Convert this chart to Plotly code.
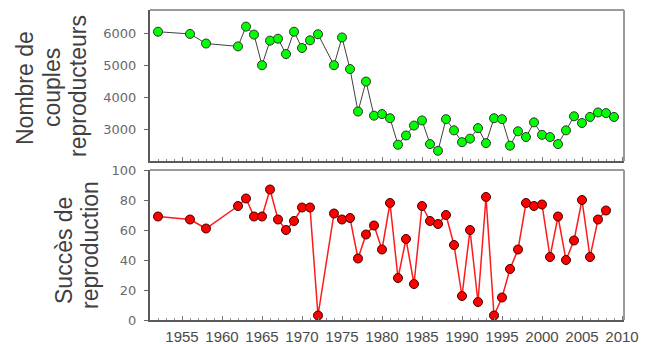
import plotly.graph_objects as go

years_top = [1952, 1956, 1958, 1962, 1963, 1964, 1965, 1966, 1967, 1968, 1969, 1970, 1971, 1972,
             1974, 1975, 1976, 1977, 1978, 1979, 1980, 1981, 1982, 1983, 1984, 1985, 1986, 1987,
             1988, 1989, 1990, 1991, 1992, 1993, 1994, 1995, 1996, 1997, 1998, 1999, 2000, 2001,
             2002, 2003, 2004, 2005, 2006, 2007, 2008, 2009]
couples = [6050, 5980, 5680, 5590, 6210, 5960, 5000, 5770, 5830, 5350, 6050, 5540, 5780, 5970,
           5000, 5870, 4880, 3550, 4490, 3420, 3470, 3340, 2510, 2800, 3110, 3270, 2530, 2320,
           3310, 2960, 2590, 2700, 3030, 2560, 3340, 3310, 2480, 2930, 2750, 3210, 2820, 2750,
           2530, 2960, 3400, 3190, 3380, 3520, 3500, 3380]

years_bot = [1952, 1956, 1958, 1962, 1963, 1964, 1965, 1966, 1967, 1968, 1969, 1970, 1971, 1972,
             1974, 1975, 1976, 1977, 1978, 1979, 1980, 1981, 1982, 1983, 1984, 1985, 1986, 1987,
             1988, 1989, 1990, 1991, 1992, 1993, 1994, 1995, 1996, 1997, 1998, 1999, 2000, 2001,
             2002, 2003, 2004, 2005, 2006, 2007, 2008]
succes = [69, 67, 61, 76, 81, 69, 69, 87, 67, 60, 66, 75, 75, 3,
          71, 67, 68, 41, 57, 63, 47, 78, 28, 54, 24, 76, 66, 64,
          70, 50, 16, 60, 12, 82, 3, 15, 34, 47, 78, 76, 77, 42,
          69, 40, 53, 80, 42, 67, 73]

x_ticks = [1955, 1960, 1965, 1970, 1975, 1980, 1985, 1990, 1995, 2000, 2005, 2010]
top_ticks = [3000, 4000, 5000, 6000]
bot_ticks = [0, 20, 40, 60, 80, 100]

W, H = 651, 344
xl, xr = 150, 624
xdom = [xl / W, xr / W]
top_dom = [1 - 161 / H, 1 - 10 / H]
bot_dom = [1 - 320 / H, 1 - 170 / H]

fig = go.Figure()
fig.add_trace(go.Scatter(
    x=years_top, y=couples, mode="lines+markers", xaxis="x", yaxis="y",
    line=dict(color="#404040", width=1),
    marker=dict(color="#00ff00", size=9, line=dict(color="#303030", width=1)),
    showlegend=False, hoverinfo="skip"))
fig.add_trace(go.Scatter(
    x=years_bot, y=succes, mode="lines+markers", xaxis="x2", yaxis="y2",
    line=dict(color="#ff1a1a", width=1.5),
    marker=dict(color="#ff0000", size=9, line=dict(color="#3a0000", width=1)),
    showlegend=False, hoverinfo="skip"))

axis_common = dict(showgrid=False, zeroline=False, showline=True, linecolor="#5a5a5a",
                   linewidth=2, automargin=False)
xcommon = dict(axis_common, range=[1951, 2010.25], tickmode="array", tickvals=x_ticks,
               ticks="inside", ticklen=4, tickcolor="#777", tickwidth=1,
               minor=dict(dtick=1, tick0=1950, ticks="inside", ticklen=2, tickcolor="#888",
                          tickwidth=1),
               domain=xdom)

fig.update_layout(
    width=W, height=H, margin=dict(l=0, r=0, t=0, b=0, autoexpand=False),
    paper_bgcolor="white", plot_bgcolor="white",
    xaxis=dict(xcommon, anchor="y", showticklabels=False),
    xaxis2=dict(xcommon, anchor="y2", showticklabels=True,
                tickfont=dict(family="Liberation Sans", size=15, color="#4a4a4a"),
                ticklabelstandoff=2),
    yaxis=dict(axis_common, domain=top_dom, anchor="x", range=[2000, 6730],
               tickmode="array", tickvals=top_ticks, ticks="outside", ticklen=4,
               tickcolor="#666", tickfont=dict(family="DejaVu Sans", size=13, color="#6a6a6a"),
               ticklabelstandoff=5),
    yaxis2=dict(axis_common, domain=bot_dom, anchor="x2", range=[0, 100],
                tickmode="array", tickvals=bot_ticks, ticks="outside", ticklen=4,
                tickcolor="#666", tickfont=dict(family="DejaVu Sans", size=13, color="#6a6a6a"),
                ticklabelstandoff=5),
)

# light top/right frame lines
for xa, ya in [("x", "y"), ("x2", "y2")]:
    fig.add_shape(type="line", xref=f"{xa} domain", yref=f"{ya} domain",
                  x0=0, x1=1, y0=1, y1=1, line=dict(color="#9a9a9a", width=2))
    fig.add_shape(type="line", xref=f"{xa} domain", yref=f"{ya} domain",
                  x0=1, x1=1, y0=0, y1=1, line=dict(color="#9a9a9a", width=2))

title_font = dict(family="Liberation Sans", size=23, color="#404040")
for text, px, py in [("Nombre de", 25, 88), ("couples", 52, 88), ("reproducteurs", 78, 86),
                     ("Succès de", 64, 251), ("reproduction", 90, 245)]:
    fig.add_annotation(text=text, x=px / W, y=1 - py / H, xref="paper", yref="paper",
                       xanchor="center", yanchor="middle", textangle=-90,
                       showarrow=False, font=title_font)

fig.write_html("out.html")
